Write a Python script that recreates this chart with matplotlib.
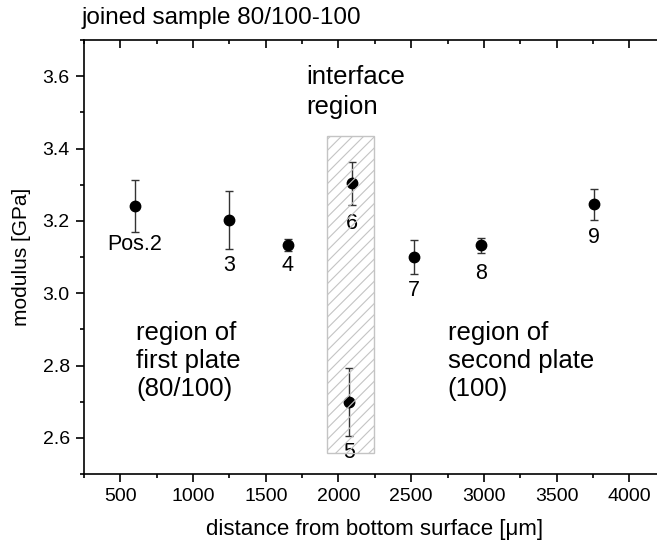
import matplotlib
matplotlib.use("Agg")
import matplotlib.pyplot as plt
from matplotlib.patches import Rectangle
from matplotlib.ticker import MultipleLocator, FormatStrFormatter

plt.rcParams['font.family'] = ['Liberation Sans', 'DejaVu Sans']
plt.rcParams['hatch.linewidth'] = 0.8

# data
distance = [600, 1250, 1650, 2070, 2095, 2520, 2980, 3760]
modulus = [3.241, 3.202, 3.133, 2.699, 3.304, 3.100, 3.132, 3.246]
mod_err = [0.072, 0.080, 0.017, 0.093, 0.060, 0.048, 0.021, 0.043]
pos_labels = ["Pos.2", "3", "4", "5", "6", "7", "8", "9"]
interface_x = [1920, 2247]
interface_y = [2.559, 3.435]

fig = plt.figure(figsize=(6.57, 5.46), dpi=100)
ax = fig.add_axes([84/657, 1-474/546, (665.6-84)/657, (474-40)/546])

ax.errorbar(distance, modulus, yerr=mod_err, fmt='o', color='black', ms=7.5,
            ecolor='#333333', elinewidth=1, capsize=3, capthick=1, zorder=3)

rect = Rectangle((interface_x[0], interface_y[0]), interface_x[1]-interface_x[0],
                 interface_y[1]-interface_y[0], facecolor='none', edgecolor='#c4c4c4',
                 hatch='///', lw=1, zorder=4)
ax.add_patch(rect)

# position labels (offsets in points)
offsets = [(0, -28), (0, -33), (0, -14.5), (0, -36), (0, -29), (0, -24), (0, -20), (0, -24)]
for x, y, lab, off in zip(distance, modulus, pos_labels, offsets):
    ax.annotate(lab, (x, y), xytext=off, textcoords='offset points',
                ha='center', va='center', fontsize=15.5)

ax.text(1781, 3.556, "interface\nregion", fontsize=18.5, ha='left', va='center', linespacing=1.35)
ax.text(608, 2.812, "region of\nfirst plate\n(80/100)", fontsize=18.5, ha='left', va='center', linespacing=1.2)
ax.text(2752, 2.812, "region of\nsecond plate\n(100)", fontsize=18.5, ha='left', va='center', linespacing=1.2)

ax.set_xlim(250, 4250)
ax.set_ylim(2.5, 3.7)
ax.xaxis.set_major_locator(MultipleLocator(500))
ax.xaxis.set_minor_locator(MultipleLocator(250))
ax.yaxis.set_major_locator(MultipleLocator(0.2))
ax.yaxis.set_minor_locator(MultipleLocator(0.1))
ax.yaxis.set_major_formatter(FormatStrFormatter('%.1f'))

for s in ['right', 'top']:
    ax.spines[s].set_visible(False)
for s in ['left', 'bottom']:
    ax.spines[s].set_linewidth(1.2)

ax.tick_params(which='major', length=5.8, width=1.2, labelsize=14, direction='out', pad=4.5)
ax.tick_params(which='minor', length=3, width=1.2, direction='out')
ax.set_xticks([500, 1000, 1500, 2000, 2500, 3000, 3500, 4000])

sec = ax.secondary_xaxis('top')
sec.xaxis.set_major_locator(MultipleLocator(500))
sec.xaxis.set_minor_locator(MultipleLocator(250))
sec.tick_params(which='major', length=6, width=1.2, direction='in', labeltop=False)
sec.tick_params(which='minor', length=3, width=1.2, direction='in')
sec.spines['top'].set_linewidth(1.2)

ax.set_xlabel("distance from bottom surface [μm]", fontsize=16, labelpad=10)
ax.set_ylabel("modulus [GPa]", fontsize=15, labelpad=8)

fig.text(82/657, 1-18/546, "joined sample 80/100-100", fontsize=17.5, ha='left', va='center')

fig.savefig("out.png", dpi=100)
